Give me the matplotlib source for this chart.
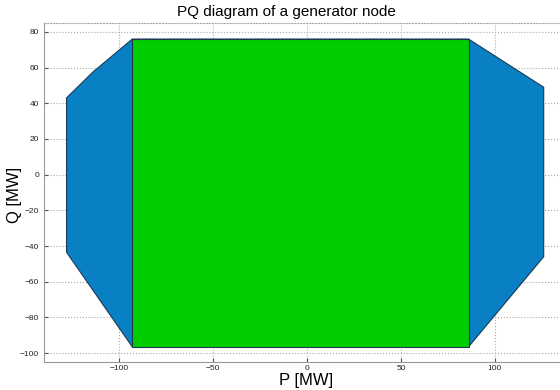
import matplotlib
matplotlib.use('Agg')
import matplotlib.pyplot as plt
from matplotlib.patches import Polygon

plt.rcParams['font.family'] = ['Liberation Sans', 'DejaVu Sans']

# capability curve of the generator (P, Q) in MW, walked clockwise
outer_p = [-93, -114, -128, -128, -93, 86, 126, 126, 86]
outer_q = [76, 57.5, 43, -43.5, -96.5, -96.5, -46, 49, 76]

# rectangle of the operating region
inner_p = [-93, 86, 86, -93]
inner_q = [76, 76, -96.5, -96.5]

xticks = [-100, -50, 0, 50, 100]
yticks = [-100, -80, -60, -40, -20, 0, 20, 40, 60, 80]

fig = plt.figure(figsize=(5.6, 3.9), dpi=100)
ax = fig.add_axes([44 / 560, 28 / 390, 526 / 560, 339 / 390])

ax.add_patch(Polygon(list(zip(outer_p, outer_q)), closed=True,
                     facecolor='#0a80c4', edgecolor='#1c3a55', linewidth=0.8, zorder=2))
ax.add_patch(Polygon(list(zip(inner_p, inner_q)), closed=True,
                     facecolor='#00cc00', edgecolor='#1c3a55', linewidth=0.8, zorder=3))

ax.set_xlim(-140, 140)
ax.set_ylim(-105, 85)
ax.set_xticks(xticks)
ax.set_yticks(yticks)
ax.tick_params(direction='in', length=3, labelsize=6, colors='#555555', labelcolor='#222222')
ax.tick_params(axis='x', pad=2)
ax.grid(True, linestyle=':', color='#aaaaaa', linewidth=0.8, zorder=0)
ax.set_axisbelow(True)

for side in ['left', 'bottom']:
    ax.spines[side].set_color('#999999')
ax.spines['right'].set_visible(False)
ax.spines['top'].set_linestyle(':')
ax.spines['top'].set_color('#aaaaaa')

# axis labels and title placed in figure coordinates
fig.text(306 / 560, 1 - 381 / 390, 'P [MW]', ha='center', va='center', fontsize=12)
fig.text(15 / 560, 1 - 195 / 390, 'Q [MW]', ha='center', va='center',
         rotation=90, fontsize=12)
fig.text(286 / 560, 1 - 12 / 390, 'PQ diagram of a generator node',
         ha='center', va='center', fontsize=11)

fig.savefig('out.png', dpi=100)
